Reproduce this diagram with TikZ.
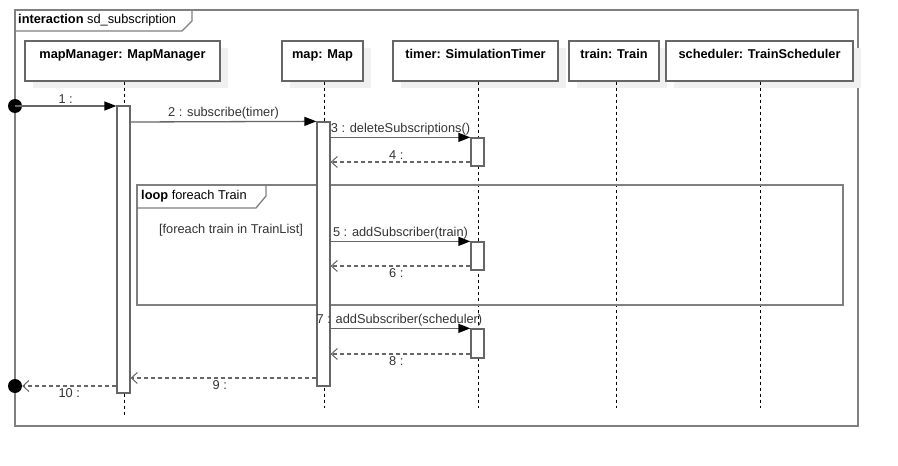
\documentclass[tikz,border=0pt]{standalone}
\usepackage{fontspec}
\setmainfont{Liberation Sans}
\usetikzlibrary{calc, positioning, arrows.meta, shadows}

\definecolor{framegray}{HTML}{808080}
\definecolor{linegray}{HTML}{666666}
\definecolor{textgray}{HTML}{333333}
\newcommand{\umlfont}{\fontsize{12.8}{15}\selectfont}

\tikzset{
  head/.style={draw=linegray, line width=1.3pt, fill=white, font=\umlfont\bfseries,
    minimum width=#1, minimum height=40pt, inner ysep=4pt,
    text height=13pt, text depth=19pt,
    general shadow={fill=black!6, draw=none, shadow xshift=8pt, shadow yshift=-7pt}},
  lifeline/.style={black, line width=0.9pt, dash pattern=on 3pt off 3pt},
  actbar/.style={draw=linegray, line width=1.3pt, fill=white, minimum width=13pt,
    minimum height=#1, inner sep=0pt},
  syncmsg/.style={linegray, line width=1.3pt, -{Triangle[length=12pt, width=9pt, black]}},
  retmsg/.style={linegray, line width=1.3pt, dash pattern=on 4pt off 3pt,
    -{Straight Barb[length=6pt, width=11pt, line width=1pt]}},
  msglabel/.style={text=textgray, inner sep=2pt},
  founddot/.style={circle, fill=black, minimum size=14pt, inner sep=0pt},
}

\begin{document}
\begin{tikzpicture}[x=1pt, y=-1pt, font=\umlfont]
\useasboundingbox (0,0) rectangle (898,466);

% Outer interaction frame
\draw[framegray, line width=1.8pt] (15,10) rectangle (858,426);
\draw[framegray, line width=1.3pt] (15,31) -- (182,31) -- (192,21) -- (192,10);
\node[anchor=west, inner sep=0pt] (sdtitle) at (18,20) {\textbf{interaction} sd\_subscription};

% Lifeline heads
\node[head=195pt] (mapManager) at (122.5,61) {mapManager: MapManager};
\node[head=81pt] (map) at (322.5,61) {map: Map};
\node[head=165pt] (timer) at (475.5,61) {timer: SimulationTimer};
\node[head=90pt] (train) at (614,61) {train: Train};
\node[head=187pt] (scheduler) at (759.5,61) {scheduler: TrainScheduler};

% Lifelines
\draw[lifeline] (mapManager.south -| 124,0) -- (124,415);
\draw[lifeline] (map.south -| 324,0) -- (324,408);
\draw[lifeline] (timer.south -| 478,0) -- (478,408);
\draw[lifeline] (train.south -| 616,0) -- (616,408);
\draw[lifeline] (scheduler.south -| 760,0) -- (760,408);

% Loop fragment
\draw[framegray, line width=1.5pt] (137,185) rectangle (843,305);
\draw[framegray, line width=1.3pt] (137,208) -- (256,208) -- (266,196) -- (266,185);
\node[anchor=west, inner sep=0pt] (looptitle) at (141,196) {\textbf{loop} foreach Train};
\node[text=textgray] (guard) at (231,230) {[foreach train in TrainList]};

% Activation bars
\node[actbar=287pt] (mmbar) at (123.5,249.5) {};
\node[actbar=264pt] (mapbar) at (323.5,254) {};
\node[actbar=28pt] (tbarA) at (477.5,152) {};
\node[actbar=28pt] (tbarB) at (477.5,256) {};
\node[actbar=29pt] (tbarC) at (477.5,343.5) {};

% Found and lost message ends
\node[founddot] (start) at (15,106) {};
\node[founddot] (stop) at (15,386) {};

% Messages
\draw[syncmsg] (start.center) -- (mmbar.west |- start.center)
  node[msglabel, midway, above] {1 :};
\draw[syncmsg] (mmbar.east |- 0,122) -- (mapbar.north west)
  node[msglabel, midway, above] {2 : subscribe(timer)};
\draw[syncmsg] (mapbar.east |- tbarA.north) -- (tbarA.north west)
  node[msglabel, midway, above] {3 : deleteSubscriptions()};
\draw[retmsg] (tbarA.west |- 0,162) -- (mapbar.east |- 0,162)
  node[msglabel, pos=0.53, above] {4 :};

\draw[syncmsg] (mapbar.east |- tbarB.north) -- (tbarB.north west)
  node[msglabel, midway, above] {5 : addSubscriber(train)};
\draw[retmsg] (tbarB.west |- 0,266) -- (mapbar.east |- 0,266)
  node[msglabel, pos=0.53, below] {6 :};

\draw[syncmsg] (mapbar.east |- tbarC.north) -- (tbarC.north west)
  node[msglabel, midway, above, xshift=-1pt] {7 : addSubscriber(scheduler)};
\draw[retmsg] (tbarC.west |- 0,354) -- (mapbar.east |- 0,354)
  node[msglabel, pos=0.53, below] {8 :};

\draw[retmsg] (mapbar.west |- 0,378) -- (mmbar.east |- 0,378)
  node[msglabel, pos=0.52, below] {9 :};
\draw[retmsg] (mmbar.west |- stop.center) -- (stop.east)
  node[msglabel, midway, below] {10 :};
\end{tikzpicture}
\end{document}
